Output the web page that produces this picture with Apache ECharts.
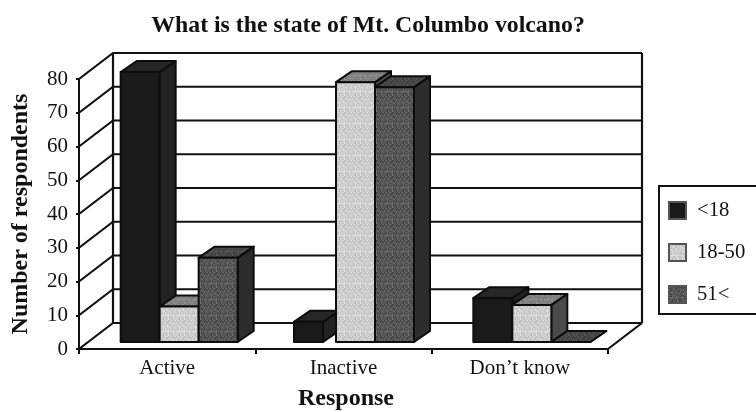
<!DOCTYPE html>
<html>
<head>
<meta charset="utf-8">
<style>html,body{margin:0;padding:0;background:#fff;overflow:hidden}#chart{width:756px;height:412px}</style>
<script src="https://cdn.jsdelivr.net/npm/echarts@6/dist/echarts.min.js"></script>
</head>
<body>
<div id="chart"></div>
<script>
const categories = ['Active', 'Inactive', "Don\u2019t know"];
const under18 = [80, 6, 13];
const adults = [10.5, 77, 11];
const over51 = [25, 75.5, 0];
const yTicks = [0, 10, 20, 30, 40, 50, 60, 70, 80];

// Perspective offsets of the 3D box and of each bar
const WALL_DX = 34, WALL_DY = -26;
const BAR_DX = 16, BAR_DY = -11, BASE_DY = -7;
const BAR_W = 39, GROUP_SHIFT = 12;
const SERIF = '"Liberation Serif", serif';
const INK = '#111';

// Stippled fills: a small tile with a repeatable dither
function stipple(base, spread) {
  const size = 16;
  const c = document.createElement('canvas');
  c.width = c.height = size;
  const g = c.getContext('2d');
  const img = g.createImageData(size, size);
  for (let y = 0; y < size; y++) {
    for (let x = 0; x < size; x++) {
      const h = ((x * 7 + y * 13 + (x * y) % 5 * 11) % 9) / 8 - 0.5;
      const v = Math.max(0, Math.min(255, base + h * spread));
      const i = (y * size + x) * 4;
      img.data[i] = img.data[i + 1] = img.data[i + 2] = v;
      img.data[i + 3] = 255;
    }
  }
  g.putImageData(img, 0, 0);
  return { image: c, repeat: 'repeat' };
}

const fills = [
  { front: '#1a1a1a', side: '#222222', top: '#262626' },
  { front: stipple(205, 40), side: '#4a4a4a', top: stipple(130, 30) },
  { front: stipple(85, 50), side: '#2c2c2c', top: stipple(72, 30) }
];

function poly(points, fill) {
  return {
    type: 'polygon',
    shape: { points },
    style: { fill, stroke: '#0c0c0c', lineWidth: 2, lineJoin: 'round' }
  };
}

function barRenderer(index) {
  return function (params, api) {
    const cat = api.value(0);
    const val = api.value(1);
    const center = api.coord([cat, 0])[0] + GROUP_SHIFT;
    let x0 = center + (index - 1.5) * BAR_W;
    let x1 = x0 + BAR_W;
    // The short Inactive bar stands narrower than its neighbours
    if (index === 0 && cat === 1) { x0 -= 3; x1 -= 13; }
    const yb = api.coord([cat, 0])[1] + BASE_DY;
    const yt = api.coord([cat, val])[1] + BASE_DY;
    const f = fills[index];
    return {
      type: 'group',
      children: [
        poly([[x1, yb], [x1 + BAR_DX, yb + BAR_DY], [x1 + BAR_DX, yt + BAR_DY], [x1, yt]], f.side),
        poly([[x0, yt], [x0 + BAR_DX, yt + BAR_DY], [x1 + BAR_DX, yt + BAR_DY], [x1, yt]], f.top),
        poly([[x0, yb], [x1, yb], [x1, yt], [x0, yt]], f.front)
      ]
    };
  };
}

function line(points, width) {
  return {
    type: 'polyline',
    shape: { points },
    style: { stroke: INK, lineWidth: width, fill: 'none' }
  };
}

// Walls and floor of the box, hung on the value scale
function boxRenderer(params, api) {
  const v = api.value(0);
  const y = api.coord([0, v])[1];
  const left = params.coordSys.x;
  const right = left + params.coordSys.width;
  const bx = left + WALL_DX;
  const by = y + WALL_DY;
  const kids = [line([[left, y], [bx, by], [right + WALL_DX, by]], 2.2)];
  if (v === 0) {
    const topY = by - params.coordSys.height;
    kids.push(line([[right, y], [right + WALL_DX, by]], 2.2));
    kids.push(line([[bx, by], [bx, topY]], 2.2));
    kids.push(line([[right + WALL_DX, by], [right + WALL_DX, topY]], 2.2));
  }
  return { type: 'group', children: kids };
}

function barSeries(name, values, index) {
  return {
    name,
    type: 'custom',
    coordinateSystem: 'cartesian2d',
    renderItem: barRenderer(index),
    encode: { x: 0, y: 1 },
    itemStyle: { color: fills[index].front, borderColor: '#555', borderWidth: 1 },
    data: values.map((v, i) => [i, v]),
    z: 5 + index,
    silent: true
  };
}

const chart = echarts.init(document.getElementById('chart'), null, { renderer: 'canvas' });
chart.setOption({
  animation: false,
  backgroundColor: '#fff',
  title: {
    text: 'What is the state of Mt. Columbo volcano?',
    left: 363, top: 9, textAlign: 'center',
    textStyle: { fontFamily: SERIF, fontWeight: 'bold', fontSize: 23.8, color: INK }
  },
  grid: { left: 79, top: 79, width: 529, height: 270, outerBoundsMode: 'none' },
  legend: {
    left: 659, top: 186,
    orient: 'vertical',
    itemWidth: 17, itemHeight: 17, itemGap: 21,
    padding: [14, 40, 9, 9],
    borderColor: INK, borderWidth: 2,
    icon: 'rect',
    data: ['<18', '18-50', '51<'],
    textStyle: { fontFamily: SERIF, fontSize: 20.7, color: INK, padding: [0, 0, 0, 6] }
  },
  xAxis: {
    type: 'category',
    data: categories,
    name: 'Response',
    nameLocation: 'middle',
    nameGap: 38,
    nameTextStyle: { fontFamily: SERIF, fontWeight: 'bold', fontSize: 24, color: INK, padding: [0, 0, 0, 5] },
    axisLine: { lineStyle: { color: INK, width: 2 } },
    axisTick: { show: true, alignWithLabel: false, length: 5, lineStyle: { color: INK, width: 2 } },
    axisLabel: { fontFamily: SERIF, fontSize: 21, color: INK, margin: 9 },
    splitLine: { show: false }
  },
  yAxis: {
    type: 'value',
    min: 0, max: 80, interval: 10,
    name: 'Number of respondents',
    nameLocation: 'middle',
    nameGap: 46,
    nameRotate: 90,
    nameTextStyle: { fontFamily: SERIF, fontWeight: 'bold', fontSize: 24, color: INK },
    axisLine: { show: true, lineStyle: { color: INK, width: 2 } },
    axisTick: { show: true, length: 3, lineStyle: { color: INK, width: 2 } },
    axisLabel: { fontFamily: SERIF, fontSize: 21, color: INK, margin: 11 },
    splitLine: { show: false }
  },
  series: [
    {
      type: 'custom',
      coordinateSystem: 'cartesian2d',
      renderItem: boxRenderer,
      encode: { y: 0 },
      data: yTicks.map(v => [v]),
      z: 1,
      silent: true
    },
    barSeries('<18', under18, 0),
    barSeries('18-50', adults, 1),
    barSeries('51<', over51, 2)
  ]
});
</script>
</body>
</html>
